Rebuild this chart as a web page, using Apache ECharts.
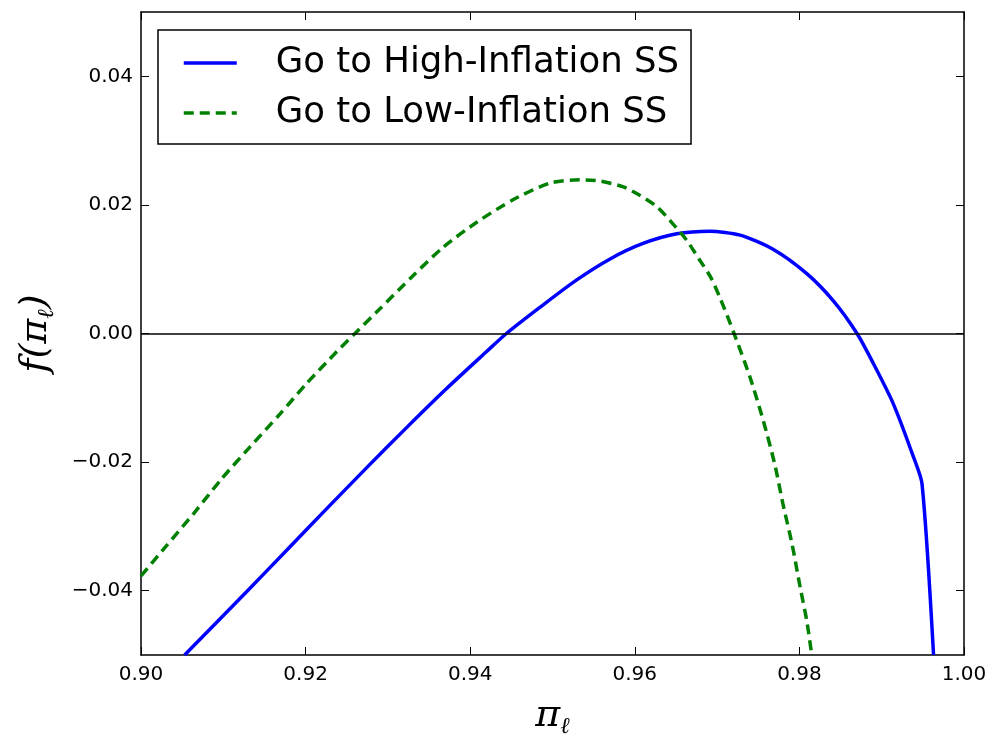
<!DOCTYPE html>
<html>
<head>
<meta charset="utf-8">
<script src="https://cdn.jsdelivr.net/npm/echarts@6/dist/echarts.min.js"></script>
<style>
  html, body { margin: 0; padding: 0; background: #fff; }
  #chart { width: 992px; height: 738px; }
</style>
</head>
<body>
<div id="chart"></div>
<script>
// tick positions
const xTicks = [0.90, 0.92, 0.94, 0.96, 0.98, 1.00];
const yTicks = [-0.04, -0.02, 0.00, 0.02, 0.04];

// Go to High-Inflation SS (solid blue)
const highX = [0.9053, 0.9128, 0.9177, 0.9226, 0.9274, 0.9323, 0.9371, 0.9420, 0.9444, 0.9485, 0.9529, 0.9570, 0.9610, 0.9651, 0.9691, 0.9728, 0.9768, 0.9809, 0.9841, 0.9870, 0.9890, 0.9914, 0.9938, 0.9949, 0.9963];
const highY = [-0.0500, -0.0402, -0.0337, -0.0272, -0.0209, -0.0146, -0.0086, -0.0028, 0.0000, 0.0041, 0.0083, 0.0116, 0.0140, 0.0155, 0.0159, 0.0153, 0.0131, 0.0093, 0.0051, 0.0000, -0.0047, -0.0109, -0.0190, -0.0234, -0.0500];

// Go to Low-Inflation SS (dashed green)
const lowX = [0.9000, 0.9031, 0.9064, 0.9098, 0.9132, 0.9169, 0.9201, 0.9238, 0.9260, 0.9290, 0.9329, 0.9367, 0.9408, 0.9452, 0.9497, 0.9533, 0.9558, 0.9586, 0.9606, 0.9627, 0.9646, 0.9663, 0.9679, 0.9692, 0.9704, 0.9720, 0.9740, 0.9756, 0.9770, 0.9780, 0.9791, 0.9801, 0.9809, 0.9815];
const lowY = [-0.0377, -0.0330, -0.0280, -0.0226, -0.0177, -0.0125, -0.0078, -0.0028, 0.0000, 0.0038, 0.0088, 0.0134, 0.0173, 0.0208, 0.0234, 0.0239, 0.0237, 0.0228, 0.0215, 0.0197, 0.0171, 0.0145, 0.0114, 0.0088, 0.0054, 0.0002, -0.0068, -0.0135, -0.0203, -0.0265, -0.0327, -0.0395, -0.0447, -0.0500];

const zip = (xs, ys) => xs.map((x, i) => [x, ys[i]]);
const fmt = v => (v < 0 ? '\u2212' : '') + Math.abs(v).toFixed(2);

const axisLine = { show: true, onZero: false, lineStyle: { color: '#000', width: 1.5 } };
const mathRich = {
  m: { fontFamily: 'DejaVu Serif', fontStyle: 'italic', fontSize: 38, color: '#000', lineHeight: 46 },
  s: { fontFamily: 'DejaVu Serif', fontStyle: 'italic', fontSize: 23, color: '#000', verticalAlign: 'bottom', lineHeight: 46 }
};

function makeX(pos, main) {
  return {
    type: 'value', position: pos, min: 0.9, max: 1.0,
    axisLine: axisLine,
    axisTick: { show: true, inside: true, length: 8, customValues: xTicks, lineStyle: { color: '#000', width: 1 } },
    axisLabel: main ? { show: true, customValues: xTicks, formatter: fmt, fontFamily: 'DejaVu Sans', fontSize: 20, color: '#000', margin: 10 } : { show: false },
    splitLine: { show: false },
    name: main ? '{m|π}{s|ℓ}' : '',
    nameLocation: 'middle', nameGap: 38,
    nameTextStyle: { rich: mathRich }
  };
}

function makeY(pos, main) {
  return {
    type: 'value', position: pos, min: -0.05, max: 0.05,
    axisLine: axisLine,
    axisTick: { show: true, inside: true, length: 8, customValues: yTicks, lineStyle: { color: '#000', width: 1 } },
    axisLabel: main ? { show: true, customValues: yTicks, formatter: fmt, fontFamily: 'DejaVu Sans', fontSize: 20, color: '#000', margin: 8 } : { show: false },
    splitLine: { show: false },
    name: main ? '{m|f(π}{s|ℓ}{m|)}' : '',
    nameLocation: 'middle', nameGap: 82, nameRotate: 90,
    nameTextStyle: { rich: mathRich }
  };
}

let myChart = echarts.init(document.getElementById('chart'), null, { renderer: 'canvas' });
myChart.setOption({
  animation: false,
  backgroundColor: '#fff',
  grid: { left: 141, right: 28, top: 12, bottom: 83, containLabel: false, outerBoundsMode: 'none' },
  legend: {
    orient: 'vertical', left: 158, top: 30,
    padding: [15, 12, 13, 24],
    itemGap: 14, itemWidth: 53, itemHeight: 14,
    borderColor: '#000', borderWidth: 1.5, borderRadius: 0,
    backgroundColor: '#fff',
    itemStyle: { opacity: 0 },
    lineStyle: { width: 3.5 },
    textStyle: { fontFamily: 'DejaVu Sans', fontSize: 35.5, color: '#000', padding: [0, 0, 0, 34] },
    data: ['Go to High-Inflation SS', 'Go to Low-Inflation SS']
  },
  xAxis: [makeX('bottom', true), makeX('top', false)],
  yAxis: [makeY('left', true), makeY('right', false)],
  series: [
    {
      name: 'Go to High-Inflation SS', type: 'line', showSymbol: false, symbol: 'none',
      smooth: 0.25,
      data: zip(highX, highY),
      lineStyle: { color: '#0000ff', width: 3.5 }, itemStyle: { color: '#0000ff' },
      markLine: {
        silent: true, symbol: 'none', label: { show: false },
        lineStyle: { color: '#000', width: 1.5, type: 'solid' },
        data: [{ yAxis: 0 }]
      }
    },
    {
      name: 'Go to Low-Inflation SS', type: 'line', showSymbol: false, symbol: 'none',
      smooth: 0.25,
      data: zip(lowX, lowY),
      lineStyle: { color: '#008000', width: 3.5, type: [10, 6] }, itemStyle: { color: '#008000' }
    }
  ]
});
</script>
</body>
</html>
